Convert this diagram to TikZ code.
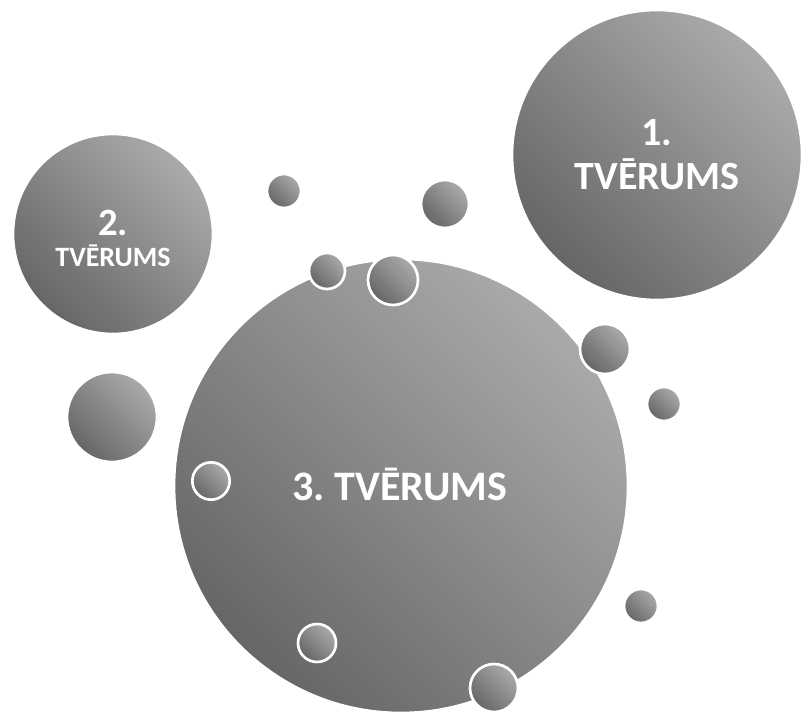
\documentclass[tikz,border=0pt]{standalone}
\usepackage{fontspec}
\setmainfont{Carlito}
\usepackage{tikz}
\definecolor{bubblelight}{RGB}{170,170,170}
\definecolor{bubbledark}{RGB}{102,102,102}
\tikzset{
  bubble/.style={circle, draw=white, line width=2pt, inner sep=0pt,
    top color=bubblelight, bottom color=bubbledark, shading angle=-45},
  label/.style={text=white, font=\bfseries, align=center, inner sep=0pt}
}
\begin{document}
\begin{tikzpicture}
		[x=0.75pt, y=0.75pt]
		\useasboundingbox (0,0) rectangle (805,715);
		% big bubbles %
		\node[bubble, minimum size=340.5pt] (b3) at (401,229) {};
		\node[bubble, minimum size=217.5pt] (b1) at (657,560) {};
		\node[bubble, minimum size=150pt] (b2) at (113,481) {};
		\node[bubble, minimum size=67.5pt] (b4) at (112,298) {};

		% small bubbles %
		\node[bubble, minimum size=25.5pt] (s1) at (284,524) {};
		\node[bubble, minimum size=36pt] (s2) at (445,511) {};
		\node[bubble, minimum size=37.5pt] (s3) at (605,366) {};
		\node[bubble, minimum size=25.5pt] (s4) at (664,311) {};
		\node[bubble, minimum size=25.5pt] (s5) at (641,109) {};
		\node[bubble, minimum size=27pt] (s6) at (327,444) {};
		\node[bubble, minimum size=37.5pt] (s7) at (393,435) {};
		\node[bubble, minimum size=28pt] (s8) at (211,234) {};
		\node[bubble, minimum size=28.5pt] (s9) at (317,72) {};
		\node[bubble, minimum size=36pt] (s10) at (494,27) {};

		% labels %
		\node[label, font=\bfseries\fontsize{30}{33}\selectfont] (t1) at (b1) {1.\\TVĒRUMS};
		\node[label, font=\bfseries\fontsize{29}{29}\selectfont] (t2a) at (113,492) {2.};
		\node[label, font=\bfseries\fontsize{21}{21}\selectfont] (t2b) at (113,459) {TVĒRUMS};
		\node[label, font=\bfseries\fontsize{31.5}{34}\selectfont] (t3) at (400,231) {3.~TVĒRUMS};
		\end{tikzpicture}
\end{document}
